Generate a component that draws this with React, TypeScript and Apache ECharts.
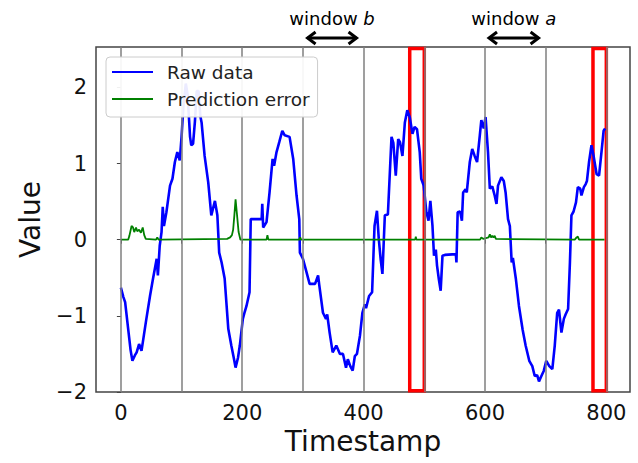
import React, { useEffect, useRef } from "react";
import * as echarts from "echarts";

const rawX = [0, 4, 7, 12, 16, 19, 23, 26, 30, 34, 38, 42, 48, 53, 59, 61, 64, 67, 69, 71, 75, 81, 85, 89, 93, 97, 100, 103, 107, 110, 114, 116, 119, 122, 125, 128, 131, 133, 138, 144, 149, 155, 159, 162, 166, 171, 177, 182, 186, 189, 193, 196, 201, 204, 207, 212, 214, 232, 233, 234.5, 240, 245, 250, 252.5, 256.5, 261, 266, 270, 278, 284, 289.5, 294, 295, 300, 306, 311, 320, 325, 327, 333, 338, 340, 344, 349, 355, 361, 366, 371, 374, 378, 382, 385.5, 389, 394, 398, 402, 404, 409, 414, 418, 422, 425, 428, 431, 435, 440, 446, 449, 453, 457, 460, 464, 468, 472, 476, 480.5, 484, 488, 492.5, 495, 499, 503.5, 507, 510, 513.5, 516, 519, 521, 524, 527, 530, 534, 552, 553, 555, 559, 562, 564, 568, 570, 575, 579, 583, 587, 591.5, 594, 598, 601, 605, 608, 612, 616, 619, 621.5, 627, 631, 634, 638, 641, 644, 646, 651, 656, 662, 667, 673, 678, 682, 686, 689, 693, 697, 701, 706, 711, 715, 719, 722, 726, 730, 733, 737, 740, 742.5, 746, 750, 753, 757, 759, 763, 766, 768, 771.5, 775.5, 779, 784, 788, 792, 795.5, 798];
const rawY = [-0.63, -0.75, -0.82, -1.17, -1.45, -1.59, -1.52, -1.48, -1.37, -1.46, -1.25, -1.04, -0.74, -0.51, -0.25, -0.47, -0.08, 0.1, 0.43, 0.18, 0.36, 0.71, 0.8, 1.02, 1.15, 1.04, 1.35, 1.75, 2.05, 1.9, 1.35, 1.24, 1.26, 1.55, 1.95, 1.95, 1.62, 1.54, 1.1, 0.75, 0.32, 0.51, 0.32, -0.17, -0.3, -0.51, -1.17, -1.39, -1.55, -1.68, -1.55, -1.39, -1.04, -0.95, -0.87, -0.69, 0.27, 0.27, 0.47, 0.16, 0.23, 0.62, 1.06, 0.97, 1.15, 1.28, 1.43, 1.37, 1.35, 1.06, 0.58, 0.27, -0.17, -0.25, -0.43, -0.58, -0.58, -0.47, -0.6, -0.96, -1.04, -0.98, -1.22, -1.48, -1.39, -1.5, -1.5, -1.68, -1.57, -1.66, -1.72, -1.53, -1.5, -1.26, -0.96, -0.85, -0.9, -0.74, -0.69, 0.18, 0.38, 0.01, -0.25, -0.45, 0.32, 0.33, 1.35, 1.27, 0.84, 1.32, 1.28, 1.1, 1.54, 1.7, 1.61, 1.39, 1.48, 1.45, 1.15, 0.8, 0.71, 0.36, 0.25, 0.51, 0.18, -0.21, -0.13, -0.34, -0.52, -0.67, -0.21, -0.2, -0.19, -0.3, 0.36, 0.37, 0.25, 0.62, 0.66, 0.62, 1.02, 1.19, 1.1, 1.02, 1.37, 1.57, 1.46, 1.61, 1.15, 0.67, 0.7, 0.58, 0.47, 0.71, 0.82, 0.77, 0.62, 0.27, 0.18, -0.3, -0.24, -0.52, -0.87, -1.18, -1.39, -1.59, -1.66, -1.79, -1.78, -1.86, -1.79, -1.72, -1.59, -1.66, -1.7, -1.39, -0.96, -0.92, -1.22, -1.04, -0.98, -0.91, -0.3, 0.32, 0.37, 0.49, 0.69, 0.67, 0.58, 0.69, 0.73, 0.77, 1.02, 1.24, 1.1, 0.86, 0.84, 1.15, 1.43, 1.46];

const errX = [0, 12, 14, 17.6, 20, 22, 25, 27, 30, 33, 36, 38.5, 41, 58, 60, 62, 175, 180, 183, 185, 187, 189, 191, 194, 197, 240, 241.5, 243, 294, 295.5, 297, 485, 486, 487, 592, 594, 597, 606, 608, 610, 612, 614, 616, 618, 748, 751, 753, 755, 797];
const errY = [0, 0, 0.05, 0.18, 0.16, 0.1, 0.16, 0.11, 0.13, 0.09, 0.16, 0.06, 0.01, 0, 0.03, 0, 0.01, 0.03, 0.06, 0.13, 0.32, 0.53, 0.36, 0.1, 0, 0, 0.06, 0, 0, 0.03, 0, 0, 0.04, 0, 0, 0.03, 0.01, 0.03, 0.07, 0.03, 0.05, 0.03, 0.05, 0.01, 0, 0.03, 0.04, 0, 0];

const gridLineX = [0, 100, 200, 300, 400, 500, 600, 700, 800];
const xTickLabels = [0, 200, 400, 600, 800];
const yTickValues = [-2, -1, 0, 1, 2];
const highlightRanges = [[476, 500], [778, 800]];
const windowLabels = ["b", "a"];
const windowFrom = [306, 605];
const windowTo = [390, 690];

const FONT = "DejaVu Sans";

export default function App() {
  const ref = useRef<HTMLDivElement>(null);
  useEffect(() => {
    document.body.style.margin = "0";
    const chart = echarts.init(ref.current!, null, { renderer: "svg" });
    const fmtY = (v: number) => (v < 0 ? "\u2212" + Math.abs(v) : String(v));
    chart.setOption({
      animation: false,
      grid: {
        left: 96,
        top: 47,
        right: 8,
        bottom: 71,
        show: true,
        borderColor: "#444",
        borderWidth: 1.5,
        backgroundColor: "transparent",
      },
      xAxis: {
        type: "value",
        min: -41,
        max: 839,
        name: "Timestamp",
        nameLocation: "middle",
        nameGap: 33,
        nameTextStyle: { fontFamily: FONT, fontSize: 28, color: "#111" },
        axisLine: { show: false },
        axisTick: { show: true, customValues: gridLineX, length: 4, lineStyle: { color: "#444" } },
        axisLabel: { customValues: xTickLabels, fontFamily: FONT, fontSize: 21, color: "#111", margin: 10 },
        splitLine: { show: false },
      },
      yAxis: {
        type: "value",
        min: -2,
        max: 2.53,
        name: "Value",
        nameLocation: "middle",
        nameGap: 52,
        nameTextStyle: { fontFamily: FONT, fontSize: 28, color: "#111" },
        axisLine: { show: false },
        axisTick: { show: true, customValues: yTickValues, length: 4, lineStyle: { color: "#444" } },
        axisLabel: { customValues: yTickValues, formatter: fmtY, fontFamily: FONT, fontSize: 21, color: "#111", margin: 9 },
        splitLine: { show: false },
      },
      legend: {
        data: ["Raw data", "Prediction error"],
        orient: "vertical",
        left: 106,
        top: 57,
        z: 50,
        icon: "rect",
        itemWidth: 41,
        itemHeight: 2,
        itemGap: 7,
        padding: [5, 8, 8, 6],
        backgroundColor: "rgba(255,255,255,0.92)",
        borderColor: "#ccc",
        borderWidth: 1,
        borderRadius: 4,
        textStyle: { fontFamily: FONT, fontSize: 18.5, color: "#222", lineHeight: 20, padding: [0, 0, 0, 9] },
      },
      series: [
        {
          name: "grid-lines",
          type: "line",
          data: [],
          z: 1,
          silent: true,
          markLine: {
            silent: true,
            symbol: "none",
            label: { show: false },
            lineStyle: { color: "#7f7f7f", width: 1.5, type: "solid" },
            data: gridLineX.map((x) => ({ xAxis: x })),
          },
        },
        {
          name: "Raw data",
          type: "line",
          data: rawX.map((x, i) => [x, rawY[i]]),
          showSymbol: false,
          symbol: "none",
          lineStyle: { color: "#0000ff", width: 2.6 },
          itemStyle: { color: "#0000ff" },
          z: 3,
        },
        {
          name: "Prediction error",
          type: "line",
          data: errX.map((x, i) => [x, errY[i]]),
          showSymbol: false,
          symbol: "none",
          lineStyle: { color: "#008000", width: 1.8 },
          itemStyle: { color: "#008000" },
          z: 3,
        },
        {
          name: "highlight",
          type: "line",
          data: [],
          z: 5,
          silent: true,
          markArea: {
            silent: true,
            itemStyle: { color: "rgba(0,0,0,0)", borderColor: "#ff0000", borderWidth: 3.5, borderRadius: 3 },
            data: highlightRanges.map(([a, b]) => [{ xAxis: a, yAxis: 2.51 }, { xAxis: b, yAxis: -1.985 }]),
          },
        },
      ],
    });

    const arrowY = 38;
    const textY = 18;
    const graphics: any[] = [];
    windowLabels.forEach((lab, i) => {
      const p1 = chart.convertToPixel({ gridIndex: 0 }, [windowFrom[i], 0]) as number[];
      const p2 = chart.convertToPixel({ gridIndex: 0 }, [windowTo[i], 0]) as number[];
      const x1 = p1[0];
      const x2 = p2[0];
      const cx = (x1 + x2) / 2;
      const st = { stroke: "#000", lineWidth: 3, fill: null };
      graphics.push({ type: "line", shape: { x1: x1 + 1, y1: arrowY, x2: x2 - 1, y2: arrowY }, style: st });
      graphics.push({ type: "polyline", shape: { points: [[x1 + 9, arrowY - 6], [x1 + 1, arrowY], [x1 + 9, arrowY + 6]] }, style: st });
      graphics.push({ type: "polyline", shape: { points: [[x2 - 9, arrowY - 6], [x2 - 1, arrowY], [x2 - 9, arrowY + 6]] }, style: st });
      graphics.push({
        type: "text",
        x: cx,
        y: textY,
        style: {
          text: "{n|window }{i|" + lab + "}",
          align: "center",
          verticalAlign: "middle",
          rich: {
            n: { fontFamily: FONT, fontSize: 18, fill: "#000" },
            i: { fontFamily: FONT, fontSize: 18, fontStyle: "italic", fill: "#000" },
          },
        },
      });
    });
    chart.setOption({ graphic: graphics });

    return () => chart.dispose();
  }, []);
  return <div ref={ref} style={{ width: 638, height: 463 }} />;
}
